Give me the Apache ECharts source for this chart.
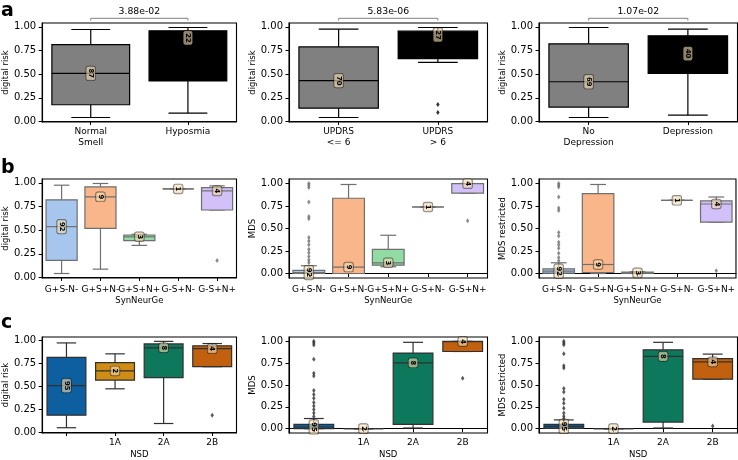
<!DOCTYPE html>
<html>
<head>
<meta charset="UTF-8">
<title></title>
<script src="https://cdn.jsdelivr.net/npm/echarts@6/dist/echarts.min.js"></script>
<style>html,body{margin:0;padding:0;background:#fff;}</style>
</head>
<body>
<div id="chart" style="width:738px;height:460px;"></div>
<script type="text/javascript">
// categories
var catsSmell = ['Normal\nSmell', 'Hyposmia'];
var catsUpdrs = ['UPDRS\n<= 6', 'UPDRS\n> 6'];
var catsDep = ['No\nDepression', 'Depression'];
var catsSyn = ['G+S-N-', 'G+S+N-', 'G+S+N+', 'G-S+N-', 'G-S+N+'];
var catsNsd = ['', '1A', '2A', '2B'];

// box stats per category: [low whisker, q1, median, q3, high whisker]
var statsSmell = [[0.042, 0.177, 0.509, 0.813, 0.972], [0.088, 0.428, 0.883, 0.958, 0.993]];
var statsUpdrs = [[0.042, 0.141, 0.431, 0.788, 0.975], [0.625, 0.664, 0.915, 0.954, 0.993]];
var statsDep = [[0.042, 0.152, 0.420, 0.820, 0.993], [0.067, 0.509, 0.717, 0.905, 0.975]];
var statsSynRisk = [[0.042, 0.180, 0.537, 0.820, 0.975], [0.088, 0.519, 0.852, 0.958, 0.993],
  [0.339, 0.389, 0.430, 0.449, 0.456], [0.936, 0.936, 0.936, 0.936, 0.936], [0.713, 0.713, 0.915, 0.950, 0.968]];
var statsSynMds = [[0, 0, 0.010, 0.034, 0.086], [0, 0, 0.071, 0.836, 0.989],
  [0.075, 0.093, 0.119, 0.269, 0.425], [0.739, 0.739, 0.739, 0.739, 0.739], [0.892, 0.892, 0.998, 1.0, 1.0]];
var statsSynMdsR = [[0.004, 0.004, 0.026, 0.052, 0.119], [0, 0.011, 0.100, 0.888, 0.989],
  [0, 0, 0.007, 0.015, 0.020], [0.813, 0.813, 0.813, 0.813, 0.813], [0.571, 0.571, 0.772, 0.806, 0.850]];
var statsNsdRisk = [[0.052, 0.189, 0.510, 0.818, 0.976], [0.476, 0.570, 0.671, 0.762, 0.857],
  [0.098, 0.598, 0.923, 0.965, 0.993], [0.717, 0.717, 0.913, 0.944, 0.969]];
var statsNsdMds = [[0, 0, 0.019, 0.049, 0.116], [0, 0, 0, 0, 0],
  [0.007, 0.049, 0.754, 0.866, 0.989], [0.884, 0.884, 0.998, 1.0, 1.0]];
var statsNsdMdsR = [[0.004, 0.004, 0.026, 0.049, 0.100], [0, 0, 0, 0, 0],
  [0.007, 0.075, 0.828, 0.903, 0.989], [0.567, 0.567, 0.765, 0.802, 0.854]];

// group sizes shown in the little boxes
var countsSmell = [87, 22];
var countsUpdrs = [70, 27];
var countsDep = [69, 40];
var countsSyn = [92, 9, 3, 1, 4];
var countsNsd = [95, 2, 8, 4];

// outliers: [category index, value]
var outUpdrs = [[1, 0.18], [1, 0.095]];
var outSynRisk = [[4, 0.18]];
var outSynMds = [[0, 1.0], [0, 0.981], [0, 0.955], [0, 0.795], [0, 0.634], [0, 0.608], [0, 0.40],
  [0, 0.36], [0, 0.32], [0, 0.27], [0, 0.23], [0, 0.19], [0, 0.15], [0, 0.12], [4, 0.586]];
var outSynMdsR = [[0, 1.0], [0, 0.98], [0, 0.96], [0, 0.85], [0, 0.728], [0, 0.701], [0, 0.455],
  [0, 0.418], [0, 0.347], [0, 0.317], [0, 0.28], [0, 0.224], [0, 0.179], [0, 0.142], [4, 0.03]];
var outNsdRisk = [[3, 0.189]];
var outNsdMds = [[0, 1.0], [0, 0.981], [0, 0.959], [0, 0.795], [0, 0.634], [0, 0.604], [0, 0.437],
  [0, 0.392], [0, 0.347], [0, 0.299], [0, 0.26], [0, 0.22], [0, 0.18], [0, 0.14], [3, 0.578]];
var outNsdMdsR = [[0, 1.0], [0, 0.98], [0, 0.96], [0, 0.858], [0, 0.72], [0, 0.694], [0, 0.459],
  [0, 0.42], [0, 0.336], [0, 0.291], [0, 0.235], [0, 0.179], [0, 0.142], [0, 0.112], [3, 0.03]];

var pValues = ['3.88e-02', '5.83e-06', '1.07e-02'];
var yTicks = [0, 0.25, 0.5, 0.75, 1.0];

var FONT = '"DejaVu Sans", sans-serif';
var colorsA = ['#808080', '#000000'];
var colorsB = ['#a6c6ee', '#f9b68a', '#93dba5', '#f6a6a2', '#d2c0f8'];
var colorsC = ['#0d5f9f', '#cf8d16', '#0d785b', '#c1600f'];

var rangeRisk = [-0.0055, 1.0405];
var rangeMds = [-0.05, 1.05];

var panels = [
  {cats: catsSmell, stats: statsSmell, counts: countsSmell, out: [], colors: colorsA, edge: '#000', yName: 'digital risk', xName: '', range: rangeRisk, p: pValues[0]},
  {cats: catsUpdrs, stats: statsUpdrs, counts: countsUpdrs, out: outUpdrs, colors: colorsA, edge: '#000', yName: 'digital risk', xName: '', range: rangeRisk, p: pValues[1]},
  {cats: catsDep, stats: statsDep, counts: countsDep, out: [], colors: colorsA, edge: '#000', yName: 'digital risk', xName: '', range: rangeRisk, p: pValues[2]},
  {cats: catsSyn, stats: statsSynRisk, counts: countsSyn, out: outSynRisk, colors: colorsB, edge: '#6f6f6f', yName: 'digital risk', xName: 'SynNeurGe', range: rangeRisk},
  {cats: catsSyn, stats: statsSynMds, counts: countsSyn, out: outSynMds, colors: colorsB, edge: '#6f6f6f', yName: 'MDS', xName: 'SynNeurGe', range: rangeMds},
  {cats: catsSyn, stats: statsSynMdsR, counts: countsSyn, out: outSynMdsR, colors: colorsB, edge: '#6f6f6f', yName: 'MDS restricted', xName: 'SynNeurGe', range: rangeMds},
  {cats: catsNsd, stats: statsNsdRisk, counts: countsNsd, out: outNsdRisk, colors: colorsC, edge: '#303030', yName: 'digital risk', xName: 'NSD', range: rangeRisk},
  {cats: catsNsd, stats: statsNsdMds, counts: countsNsd, out: outNsdMds, colors: colorsC, edge: '#303030', yName: 'MDS', xName: 'NSD', range: rangeMds},
  {cats: catsNsd, stats: statsNsdMdsR, counts: countsNsd, out: outNsdMdsR, colors: colorsC, edge: '#303030', yName: 'MDS restricted', xName: 'NSD', range: rangeMds}
];

var colLeft = [38, 289, 539];
var rowTop = [23, 179, 337];
var rowHeight = [99, 99, 98];
var xLabelSize = [9, 9, 9];
var xLabelMargin = [4, 6, 4];

function boxRenderer(colors, edge) {
  return function (params, api) {
    var k = api.value(0);
    var lo = api.coord([k, api.value(1)]);
    var q1 = api.coord([k, api.value(2)]);
    var md = api.coord([k, api.value(3)]);
    var q3 = api.coord([k, api.value(4)]);
    var hi = api.coord([k, api.value(5)]);
    var cx = md[0];
    var bw = api.size([1, 0])[0] * 0.8;
    var cw = bw * 0.5;
    function ln(x1, y1, x2, y2) {
      return {type: 'line', shape: {x1: x1, y1: y1, x2: x2, y2: y2}, style: {stroke: edge, lineWidth: 1.2}};
    }
    return {
      type: 'group',
      children: [
        ln(cx, q3[1], cx, hi[1]),
        ln(cx, q1[1], cx, lo[1]),
        ln(cx - cw / 2, hi[1], cx + cw / 2, hi[1]),
        ln(cx - cw / 2, lo[1], cx + cw / 2, lo[1]),
        {type: 'rect', shape: {x: cx - bw / 2, y: q3[1], width: bw, height: q1[1] - q3[1]},
          style: {fill: colors[k], stroke: edge, lineWidth: 1.2}},
        ln(cx - bw / 2, md[1], cx + bw / 2, md[1]),
        {type: 'text', x: cx, y: md[1], rotation: -Math.PI / 2,
          style: {text: String(api.value(6)), font: 'bold 6.8px ' + FONT, fill: '#000',
            align: 'center', verticalAlign: 'middle',
            backgroundColor: 'rgba(245,222,179,0.6)', borderColor: 'rgba(0,0,0,0.5)',
            borderWidth: 0.7, borderRadius: 2, padding: [1, 2.2]}}
      ]
    };
  };
}

function bracketRenderer(text) {
  return function (params, api) {
    var x1 = api.coord([0, 0])[0];
    var x2 = api.coord([1, 0])[0];
    var y = params.coordSys.y - 4.7;
    return {
      type: 'group',
      children: [
        {type: 'polyline', shape: {points: [[x1, y + 2.2], [x1, y], [x2, y], [x2, y + 2.2]]},
          style: {stroke: '#808080', lineWidth: 1, fill: null}},
        {type: 'text', x: (x1 + x2) / 2, y: y - 6.3,
          style: {text: text, font: '9.3px ' + FONT, fill: '#000', align: 'center', verticalAlign: 'middle'}}
      ]
    };
  };
}

var grids = [], xAxes = [], yAxes = [], series = [];
panels.forEach(function (p, i) {
  var row = Math.floor(i / 3), col = i % 3;
  grids.push({left: colLeft[col], top: rowTop[row], width: 198.5, height: rowHeight[row],
    show: true, borderColor: '#000', borderWidth: 1.1, backgroundColor: 'transparent'});
  xAxes.push({
    gridIndex: i, type: 'category', data: p.cats,
    axisLine: {show: true, lineStyle: {color: '#000', width: 1.1}},
    axisTick: {show: true, alignWithLabel: true, length: 3.5, lineStyle: {color: '#000'}},
    axisLabel: {interval: 0, fontFamily: FONT, fontSize: xLabelSize[row], color: '#000',
      margin: xLabelMargin[row], lineHeight: 11.3},
    splitLine: {show: false},
    name: p.xName, nameLocation: 'middle', nameGap: 17,
    nameTextStyle: {fontFamily: FONT, fontSize: 8.5, color: '#000'}
  });
  yAxes.push({
    gridIndex: i, type: 'value', min: p.range[0], max: p.range[1],
    axisLine: {show: true, lineStyle: {color: '#000', width: 1.1}},
    axisTick: {show: true, length: 3.5, customValues: yTicks, lineStyle: {color: '#000'}},
    axisLabel: {customValues: yTicks, fontFamily: FONT, fontSize: 10, color: '#000', margin: 6,
      formatter: function (v) { return v.toFixed(2); }},
    splitLine: {show: false},
    name: p.yName, nameLocation: 'middle', nameGap: 29,
    nameTextStyle: {fontFamily: FONT, fontSize: 8.5, color: '#000'}
  });
  series.push({
    type: 'custom', xAxisIndex: i, yAxisIndex: i,
    renderItem: boxRenderer(p.colors, p.edge),
    encode: {x: 0, y: [1, 2, 3, 4, 5]},
    data: p.stats.map(function (s, k) { return [k, s[0], s[1], s[2], s[3], s[4], p.counts[k]]; }),
    silent: true, animation: false, z: 2
  });
  series.push({
    type: 'scatter', xAxisIndex: i, yAxisIndex: i,
    symbol: 'diamond', symbolSize: [3.4, 5],
    itemStyle: {color: p.edge}, data: p.out, silent: true, animation: false, z: 3
  });
  if (p.p) {
    series.push({
      type: 'custom', xAxisIndex: i, yAxisIndex: i, clip: false,
      renderItem: bracketRenderer(p.p), data: [[0, 0]], silent: true, animation: false
    });
  }
});

var letters = [['a', 11], ['b', 168], ['c', 323]];

var chart = echarts.init(document.getElementById('chart'));
chart.setOption({
  backgroundColor: '#fff',
  animation: false,
  grid: grids,
  xAxis: xAxes,
  yAxis: yAxes,
  series: series,
  graphic: letters.map(function (l) {
    return {type: 'text', style: {text: l[0], x: 1, y: l[1], font: 'bold 19px ' + FONT,
      fill: '#000', verticalAlign: 'middle'}};
  })
});
</script>
</body>
</html>
